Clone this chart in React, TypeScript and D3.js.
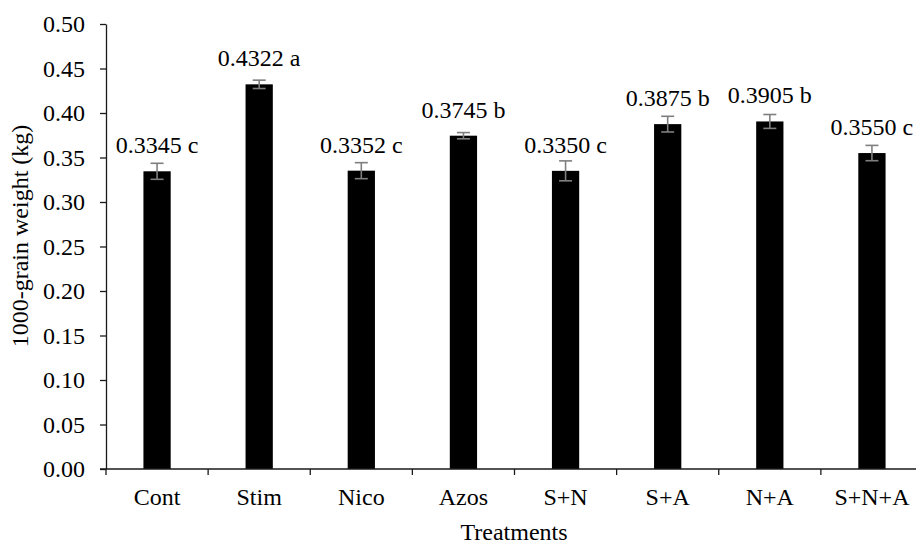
import { useEffect, useRef } from "react";
import * as d3 from "d3";

// data
const treatments = ["Cont", "Stim", "Nico", "Azos", "S+N", "S+A", "N+A", "S+N+A"];
const grainWeight = [0.3345, 0.4322, 0.3352, 0.3745, 0.335, 0.3875, 0.3905, 0.355];
const errors = [0.009, 0.0047, 0.009, 0.0035, 0.0112, 0.0088, 0.0078, 0.0086];
const letters = ["c", "a", "c", "b", "c", "b", "b", "c"];
const yTicks = [0, 0.05, 0.1, 0.15, 0.2, 0.25, 0.3, 0.35, 0.4, 0.45, 0.5];

const FONT = "'Liberation Serif', 'Times New Roman', serif";

export default function App() {
    const svgRef = useRef<SVGSVGElement | null>(null);

    useEffect(() => {
        const width = 916;
        const height = 545;

        const svg = d3.select(svgRef.current)
            .attr("width", width)
            .attr("height", height)
            .style("background", "#ffffff");

        svg.selectAll("*").remove();

        // scales
        const x = d3.scaleBand<string>()
            .domain(treatments)
            .range([106, 923])
            .padding(0);

        const y = d3.scaleLinear()
            .domain([0, 0.5])
            .range([469, 24]);

        const barW = x.bandwidth() * 0.267;

        // y axis
        const yAxis = svg.append("g")
            .attr("transform", "translate(106,0)")
            .call(d3.axisLeft(y)
                .tickValues(yTicks)
                .tickFormat(d3.format(".2f"))
                .tickSize(6)
                .tickSizeOuter(0)
                .tickPadding(15));
        yAxis.selectAll("path, line").attr("stroke", "#1a1a1a").attr("stroke-width", 1.3);
        yAxis.selectAll("text")
            .attr("font-family", FONT)
            .attr("font-size", 24)
            .attr("fill", "#000");

        // bars
        svg.append("g")
            .selectAll("rect")
            .data(grainWeight)
            .join("rect")
            .attr("x", (d, i) => x(treatments[i])! + x.bandwidth() / 2 - barW / 2)
            .attr("y", d => y(d))
            .attr("width", barW)
            .attr("height", d => y(0) - y(d))
            .attr("fill", "#000");

        // error bars
        const eb = svg.append("g")
            .attr("stroke", "#7f7f7f")
            .attr("stroke-width", 1.6)
            .selectAll("g")
            .data(grainWeight)
            .join("g")
            .attr("transform", (d, i) => `translate(${x(treatments[i])! + x.bandwidth() / 2},0)`);
        eb.append("line")
            .attr("y1", (d, i) => y(d + errors[i]))
            .attr("y2", (d, i) => y(d - errors[i]));
        eb.append("line")
            .attr("x1", -6.5).attr("x2", 6.5)
            .attr("y1", (d, i) => y(d + errors[i]))
            .attr("y2", (d, i) => y(d + errors[i]));
        eb.append("line")
            .attr("x1", -6.5).attr("x2", 6.5)
            .attr("y1", (d, i) => y(d - errors[i]))
            .attr("y2", (d, i) => y(d - errors[i]));

        // value labels
        svg.append("g")
            .selectAll("text")
            .data(grainWeight)
            .join("text")
            .attr("x", (d, i) => x(treatments[i])! + x.bandwidth() / 2)
            .attr("y", d => y(d) - 18)
            .attr("text-anchor", "middle")
            .attr("font-family", FONT)
            .attr("font-size", 24)
            .text((d, i) => `${d.toFixed(4)} ${letters[i]}`);

        // x axis (ticks between categories)
        const xAxis = svg.append("g").attr("stroke", "#1a1a1a").attr("stroke-width", 1.3);
        xAxis.append("line")
            .attr("x1", 100).attr("x2", 923)
            .attr("y1", y(0)).attr("y2", y(0));
        const bounds = treatments.map(t => x(t)!).concat([x.range()[1]]);
        xAxis.selectAll("line.tick")
            .data(bounds)
            .join("line")
            .attr("class", "tick")
            .attr("x1", d => d).attr("x2", d => d)
            .attr("y1", y(0)).attr("y2", y(0) + 6);

        svg.append("g")
            .selectAll("text")
            .data(treatments)
            .join("text")
            .attr("x", d => x(d)! + x.bandwidth() / 2)
            .attr("y", 505)
            .attr("text-anchor", "middle")
            .attr("font-family", FONT)
            .attr("font-size", 24)
            .text(d => d);

        // axis titles
        svg.append("text")
            .attr("x", 514)
            .attr("y", 540)
            .attr("text-anchor", "middle")
            .attr("font-family", FONT)
            .attr("font-size", 24)
            .text("Treatments");

        svg.append("text")
            .attr("transform", "translate(28,236) rotate(-90)")
            .attr("text-anchor", "middle")
            .attr("font-family", FONT)
            .attr("font-size", 24)
            .text("1000-grain weight (kg)");
    }, []);

    return (
        <svg ref={svgRef} style={{ position: "absolute", left: 0, top: 0 }}></svg>
    );
}
